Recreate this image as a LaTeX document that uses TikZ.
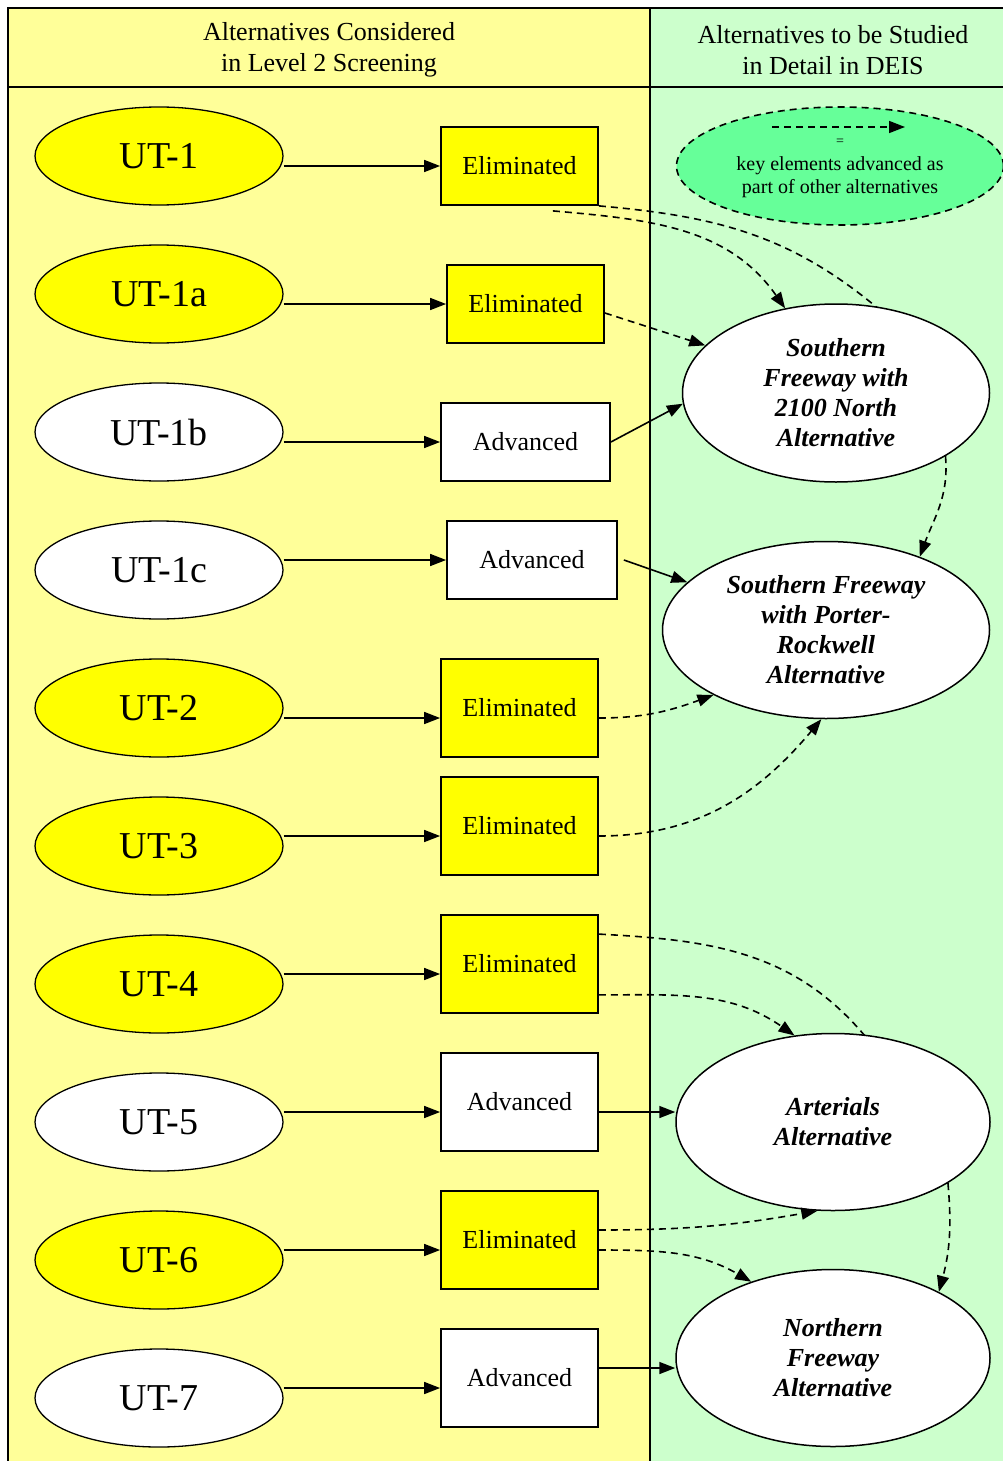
\documentclass[tikz,border=0pt]{standalone}
\usepackage{fontspec}
\setmainfont{Liberation Serif}
\usetikzlibrary{positioning,arrows.meta,shapes.geometric}
\definecolor{scPale}{RGB}{255,255,153}
\definecolor{scMint}{RGB}{204,255,204}
\definecolor{scYellow}{RGB}{255,255,0}
\definecolor{scKey}{RGB}{102,255,153}

\tikzset{
  altOval/.style={ellipse, draw=black, line width=1.3pt, minimum width=248pt,
    minimum height=98pt, inner sep=0pt, font=\fontsize{38}{40}\selectfont},
  resBox/.style={draw=black, line width=1.8pt, minimum width=157pt,
    minimum height=98pt, inner sep=0pt, font=\fontsize{26}{30}\selectfont},
  deisOval/.style={ellipse, draw=black, fill=white, line width=1.5pt,
    minimum width=314pt, minimum height=177pt, inner sep=0pt, align=center,
    font=\fontsize{26}{30}\selectfont\bfseries\itshape},
  solidLink/.style={-{Triangle[length=16pt,width=12pt]}, line width=1.6pt},
  keyLink/.style={solidLink, dash pattern=on 7pt off 5pt},
  keyLine/.style={line width=1.6pt, dash pattern=on 7pt off 5pt}
}

\begin{document}
\begin{tikzpicture}[x=1pt, y=-1pt]
  \clip (0,0) rectangle (1003,1461);

  % Columns and header
  \fill[scPale] (8,8) rectangle (650,1470);
  \fill[scMint] (650,8) rectangle (1010,1470);
  \draw[line width=1.6pt] (8,1470) -- (8,8) -- (1010,8);
  \draw[line width=1.6pt] (650,8) -- (650,1470);
  \draw[line width=1.6pt] (8,87) -- (1010,87);
  \node[align=center, font=\fontsize{26}{31}\selectfont] (hdLeft) at (329,50)
    {Alternatives Considered\\in Level 2 Screening};
  \node[align=center, font=\fontsize{26}{31}\selectfont] (hdRight) at (833,50)
    {Alternatives to be Studied\\in Detail in DEIS};

  % Key
  \node[ellipse, draw=black, fill=scKey, keyLine, minimum width=327pt,
    minimum height=118pt, inner sep=0pt] (key) at (840,166) {};
  \coordinate (keyL) at (772,127);
  \coordinate (keyR) at (905,127);
  \draw[keyLink] (keyL) -- (keyR);
  \node[font=\fontsize{14}{16}\selectfont] (keyEq) at (840,142) {=};
  \node[align=center, font=\fontsize{20}{23}\selectfont] (keyTxt) at (840,177)
    {key elements advanced as\\part of other alternatives};

  % Level 2 alternatives
  \node[altOval, fill=scYellow] (ut1) at (159,156) {UT-1};
  \node[altOval, fill=scYellow] (ut1a) at (159,294) {UT-1a};
  \node[altOval, fill=white] (ut1b) at (159,432) {UT-1b};
  \node[altOval, fill=white] (ut1c) at (159,570) {UT-1c};
  \node[altOval, fill=scYellow] (ut2) at (159,708) {UT-2};
  \node[altOval, fill=scYellow] (ut3) at (159,846) {UT-3};
  \node[altOval, fill=scYellow] (ut4) at (159,984) {UT-4};
  \node[altOval, fill=white] (ut5) at (159,1122) {UT-5};
  \node[altOval, fill=scYellow] (ut6) at (159,1260) {UT-6};
  \node[altOval, fill=white] (ut7) at (159,1398) {UT-7};

  % Screening results
  \node[resBox, fill=scYellow, minimum height=78pt] (e1) at (519.5,166) {Eliminated};
  \node[resBox, fill=scYellow, minimum height=78pt] (e1a) at (525.5,304) {Eliminated};
  \node[resBox, fill=white, minimum height=78pt, minimum width=169pt] (a1b) at (525.5,442) {Advanced};
  \node[resBox, fill=white, minimum height=78pt, minimum width=170pt] (a1c) at (532,560) {Advanced};
  \node[resBox, fill=scYellow] (e2) at (519.5,708) {Eliminated};
  \node[resBox, fill=scYellow] (e3) at (519.5,826) {Eliminated};
  \node[resBox, fill=scYellow] (e4) at (519.5,964) {Eliminated};
  \node[resBox, fill=white] (a5) at (519.5,1102) {Advanced};
  \node[resBox, fill=scYellow] (e6) at (519.5,1240) {Eliminated};
  \node[resBox, fill=white] (a7) at (519.5,1378) {Advanced};

  \draw[solidLink] (ut1.east |- e1.west) -- (e1.west);
  \draw[solidLink] (ut1a.east |- e1a.west) -- (e1a.west);
  \draw[solidLink] (ut1b.east |- a1b.west) -- (a1b.west);
  \draw[solidLink] (ut1c.east |- a1c.west) -- (a1c.west);
  \draw[solidLink] ([yshift=-10pt]ut2.east |- e2.west) -- ([yshift=-10pt]e2.west);
  \draw[solidLink] ([yshift=-10pt]ut3.east |- e3.west) -- ([yshift=-10pt]e3.west);
  \draw[solidLink] ([yshift=-10pt]ut4.east |- e4.west) -- ([yshift=-10pt]e4.west);
  \draw[solidLink] ([yshift=-10pt]ut5.east |- a5.west) -- ([yshift=-10pt]a5.west);
  \draw[solidLink] ([yshift=-10pt]ut6.east |- e6.west) -- ([yshift=-10pt]e6.west);
  \draw[solidLink] ([yshift=-10pt]ut7.east |- a7.west) -- ([yshift=-10pt]a7.west);

  % Dashed lines running under the DEIS ovals
  \draw[keyLine] (e1.south east) to[out=-5, in=140] (880,310);
  \draw[keyLine] ([yshift=-20pt]e4.north east) to[out=-3, in=130] (865,1036);

  % DEIS alternatives
  \node[deisOval, minimum width=307pt, minimum height=178pt] (sf2100) at (836,393)
    {Southern\\Freeway with\\2100 North\\Alternative};
  \node[deisOval, minimum width=327pt] (sfpr) at (826,630)
    {Southern Freeway\\with Porter-\\Rockwell\\Alternative};
  \node[deisOval] (arts) at (833,1122) {Arterials\\Alternative};
  \node[deisOval] (nfwy) at (833,1358) {Northern\\Freeway\\Alternative};

  % Advanced links
  \draw[solidLink] (a1b.east) -- (sf2100.184);
  \draw[solidLink] ([xshift=6pt]a1c.east) -- (sfpr.161);
  \draw[solidLink] ([yshift=-10pt]a5.east) -- ([yshift=-10pt]a5.east -| arts.west);
  \draw[solidLink] ([yshift=10pt]a7.east) -- ([yshift=10pt]a7.east -| nfwy.west);

  % Key element links
  \draw[keyLink] ([xshift=-46pt, yshift=-5pt]e1.south east) to[out=-5, in=125] (sf2100.121);
  \draw[keyLink] ([yshift=-9pt]e1a.east) -- (sf2100.160);
  \draw[keyLink] (sf2100.330) to[out=-85, in=70] (sfpr.38);
  \draw[keyLink] ([yshift=-10pt]e2.east) to[out=0, in=200] (sfpr.210);
  \draw[keyLink] ([yshift=-10pt]e3.east) to[out=0, in=230] (sfpr.267);
  \draw[keyLink] ([yshift=19pt]e4.south east) to[out=0, in=145] (arts.114);
  \draw[keyLink] (arts.332) to[out=-85, in=75] (nfwy.32);
  \draw[keyLink] ([yshift=10pt]e6.east) to[out=0, in=190] (arts.260);
  \draw[keyLink] ([yshift=-10pt]e6.east) to[out=0, in=150] (nfwy.137);
\end{tikzpicture}
\end{document}
